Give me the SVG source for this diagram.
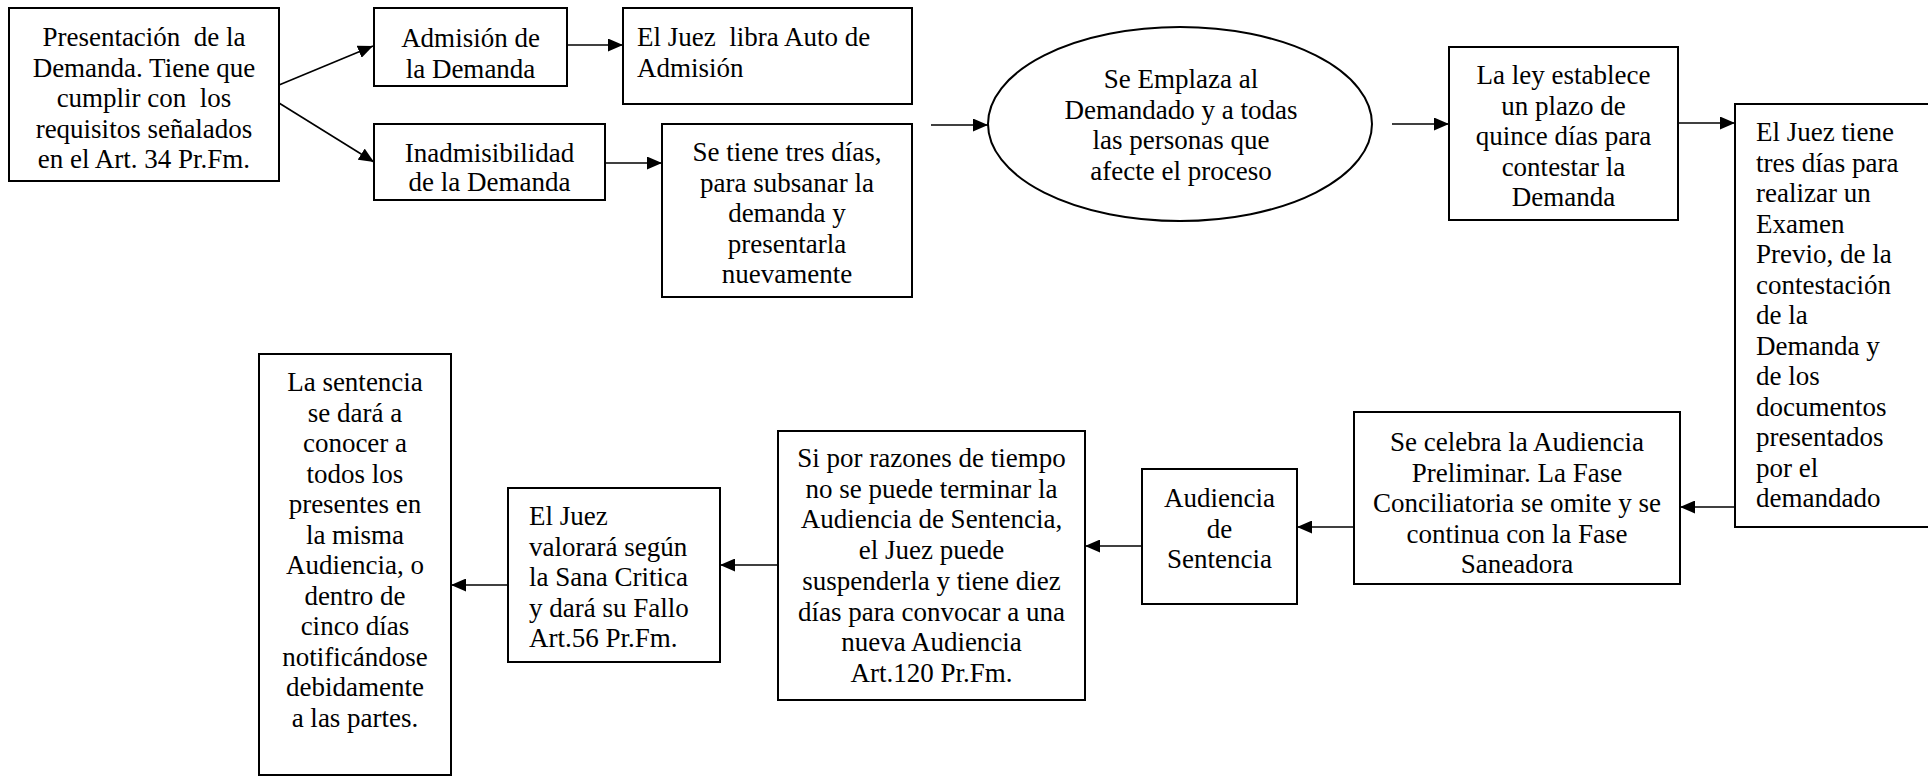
<svg xmlns="http://www.w3.org/2000/svg" width="1928" height="776" viewBox="0 0 1928 776">
<style>
.b{fill:#fff;stroke:#000;stroke-width:2}
.t{font-family:"Liberation Serif","Times New Roman",serif;font-size:27px;fill:#000;white-space:pre}
.c{text-anchor:middle}
.l{stroke:#000;stroke-width:1.6;fill:none;marker-end:url(#ah)}
</style>
<defs>
<marker id="ah" markerUnits="userSpaceOnUse" markerWidth="15" markerHeight="13" refX="15" refY="6.5" orient="auto">
<path d="M0,0 L15,6.5 L0,13 z" fill="#000"/>
</marker>
</defs>
<rect width="1928" height="776" fill="#fff"/>
<g id="connectors">
<line class="l" x1="279" y1="85" x2="373" y2="46"/>
<line class="l" x1="279" y1="103" x2="374" y2="162"/>
<line class="l" x1="567" y1="45" x2="623" y2="45"/>
<line class="l" x1="605" y1="163" x2="662" y2="163"/>
<line class="l" x1="931" y1="125" x2="988" y2="125"/>
<line class="l" x1="1392" y1="124" x2="1449" y2="124"/>
<line class="l" x1="1678" y1="123" x2="1735" y2="123"/>
<line class="l" x1="1735" y1="507" x2="1680" y2="507"/>
<line class="l" x1="1354" y1="527" x2="1297" y2="527"/>
<line class="l" x1="1142" y1="546" x2="1085" y2="546"/>
<line class="l" x1="778" y1="565" x2="720" y2="565"/>
<line class="l" x1="508" y1="585" x2="451" y2="585"/>
</g>
<g id="n1">
<rect class="b" x="9" y="8" width="270" height="173"/>
<text class="t c" x="144" y="46">Presentación  de la</text>
<text class="t c" x="144" y="76.5">Demanda. Tiene que</text>
<text class="t c" x="144" y="107">cumplir con  los</text>
<text class="t c" x="144" y="137.5">requisitos señalados</text>
<text class="t c" x="144" y="168">en el Art. 34 Pr.Fm.</text>
</g>
<g id="n2">
<rect class="b" x="374" y="8" width="193" height="78"/>
<text class="t c" x="470.5" y="47">Admisión de</text>
<text class="t c" x="470.5" y="77.5">la Demanda</text>
</g>
<g id="n3">
<rect class="b" x="623" y="8" width="289" height="96"/>
<text class="t" x="637" y="46">El Juez  libra Auto de</text>
<text class="t" x="637" y="76.5">Admisión</text>
</g>
<g id="n4">
<rect class="b" x="374" y="124" width="231" height="76"/>
<text class="t c" x="489.5" y="162">Inadmisibilidad</text>
<text class="t c" x="489.5" y="191">de la Demanda</text>
</g>
<g id="n5">
<rect class="b" x="662" y="124" width="250" height="173"/>
<text class="t c" x="787" y="161">Se tiene tres días,</text>
<text class="t c" x="787" y="191.5">para subsanar la</text>
<text class="t c" x="787" y="222">demanda y</text>
<text class="t c" x="787" y="252.5">presentarla</text>
<text class="t c" x="787" y="283">nuevamente</text>
</g>
<g id="n6">
<ellipse class="b" cx="1180" cy="124" rx="192" ry="97"/>
<text class="t c" x="1181" y="88">Se Emplaza al</text>
<text class="t c" x="1181" y="118.5">Demandado y a todas</text>
<text class="t c" x="1181" y="149">las personas que</text>
<text class="t c" x="1181" y="179.5">afecte el proceso</text>
</g>
<g id="n7">
<rect class="b" x="1449" y="47" width="229" height="173"/>
<text class="t c" x="1563.5" y="84">La ley establece</text>
<text class="t c" x="1563.5" y="114.5">un plazo de</text>
<text class="t c" x="1563.5" y="145">quince días para</text>
<text class="t c" x="1563.5" y="175.5">contestar la</text>
<text class="t c" x="1563.5" y="206">Demanda</text>
</g>
<g id="n8">
<rect class="b" x="1735" y="104" width="200" height="423"/>
<text class="t" x="1756" y="141">El Juez tiene</text>
<text class="t" x="1756" y="171.5">tres días para</text>
<text class="t" x="1756" y="202">realizar un</text>
<text class="t" x="1756" y="232.5">Examen</text>
<text class="t" x="1756" y="263">Previo, de la</text>
<text class="t" x="1756" y="293.5">contestación</text>
<text class="t" x="1756" y="324">de la</text>
<text class="t" x="1756" y="354.5">Demanda y</text>
<text class="t" x="1756" y="385">de los</text>
<text class="t" x="1756" y="415.5">documentos</text>
<text class="t" x="1756" y="446">presentados</text>
<text class="t" x="1756" y="476.5">por el</text>
<text class="t" x="1756" y="507">demandado</text>
</g>
<g id="n9">
<rect class="b" x="1354" y="412" width="326" height="172"/>
<text class="t c" x="1517" y="451">Se celebra la Audiencia</text>
<text class="t c" x="1517" y="481.5">Preliminar. La Fase</text>
<text class="t c" x="1517" y="512">Conciliatoria se omite y se</text>
<text class="t c" x="1517" y="542.5">continua con la Fase</text>
<text class="t c" x="1517" y="573">Saneadora</text>
</g>
<g id="n10">
<rect class="b" x="1142" y="469" width="155" height="135"/>
<text class="t c" x="1219.5" y="507">Audiencia</text>
<text class="t c" x="1219.5" y="537.5">de</text>
<text class="t c" x="1219.5" y="568">Sentencia</text>
</g>
<g id="n11">
<rect class="b" x="778" y="431" width="307" height="269"/>
<text class="t c" x="931.5" y="467">Si por razones de tiempo</text>
<text class="t c" x="931.5" y="497.7">no se puede terminar la</text>
<text class="t c" x="931.5" y="528.4">Audiencia de Sentencia,</text>
<text class="t c" x="931.5" y="559.1">el Juez puede</text>
<text class="t c" x="931.5" y="589.8">suspenderla y tiene diez</text>
<text class="t c" x="931.5" y="620.5">días para convocar a una</text>
<text class="t c" x="931.5" y="651.2">nueva Audiencia</text>
<text class="t c" x="931.5" y="681.9">Art.120 Pr.Fm.</text>
</g>
<g id="n12">
<rect class="b" x="508" y="488" width="212" height="174"/>
<text class="t" x="529" y="525">El Juez</text>
<text class="t" x="529" y="555.5">valorará según</text>
<text class="t" x="529" y="586">la Sana Critica</text>
<text class="t" x="529" y="616.5">y dará su Fallo</text>
<text class="t" x="529" y="647">Art.56 Pr.Fm.</text>
</g>
<g id="n13">
<rect class="b" x="259" y="354" width="192" height="421"/>
<text class="t c" x="355" y="391">La sentencia</text>
<text class="t c" x="355" y="421.5">se dará a</text>
<text class="t c" x="355" y="452">conocer a</text>
<text class="t c" x="355" y="482.5">todos los</text>
<text class="t c" x="355" y="513">presentes en</text>
<text class="t c" x="355" y="543.5">la misma</text>
<text class="t c" x="355" y="574">Audiencia, o</text>
<text class="t c" x="355" y="604.5">dentro de</text>
<text class="t c" x="355" y="635">cinco días</text>
<text class="t c" x="355" y="665.5">notificándose</text>
<text class="t c" x="355" y="696">debidamente</text>
<text class="t c" x="355" y="726.5">a las partes.</text>
</g>
</svg>
